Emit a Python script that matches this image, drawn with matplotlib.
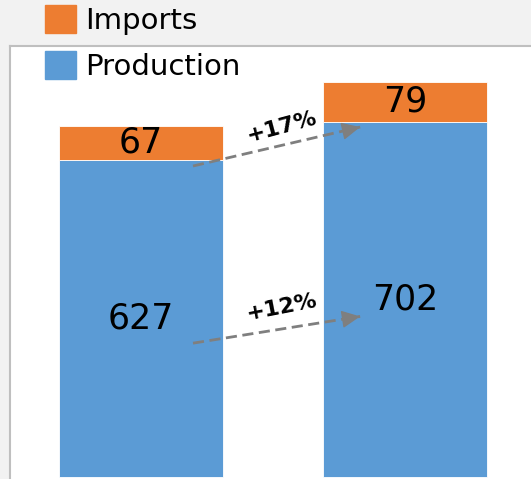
import numpy as np
import matplotlib.pyplot as plt
from matplotlib.patches import Patch

categories = ["Year 1", "Year 2"]
production = [627, 702]
imports = [67, 79]
growth_labels = ["+12%", "+17%"]

blue = "#5B9BD5"
orange = "#ED7D31"
arrow_grey = "#7F7F7F"

fig = plt.figure(figsize=(5.31, 4.79), dpi=100)
fig.patch.set_facecolor("#F2F2F2")

ax = fig.add_axes([10/531, 0, 521/531, 433/479])
ax.set_facecolor("white")

x = np.arange(len(categories))
w = 0.62
ax.bar(x, production, w, color=blue, edgecolor="white", linewidth=0.6, zorder=2)
ax.bar(x, imports, w, bottom=production, color=orange, edgecolor="white", linewidth=0.6, zorder=2)

ax.set_xlim(-0.496, 1.477)
ax.set_ylim(-3, 852)

# value labels in the segment centres
for i in range(len(x)):
    ax.text(x[i], production[i] / 2, str(production[i]), ha="center", va="center",
            fontsize=25, color="black", zorder=3)
    ax.text(x[i], production[i] + imports[i] / 2, str(imports[i]), ha="center", va="center",
            fontsize=25, color="black", zorder=3)


def growth_arrow(p0, p1):
    # dashed shaft, solid head
    ax.plot([p0[0], p1[0]], [p0[1], p1[1]], color=arrow_grey, lw=2, dashes=(4, 2),
            solid_capstyle="butt", zorder=4)
    t = 0.93
    mid = (p0[0] + t * (p1[0] - p0[0]), p0[1] + t * (p1[1] - p0[1]))
    ax.annotate("", xy=p1, xytext=mid, zorder=5,
                arrowprops=dict(arrowstyle="-|>,head_length=1.15,head_width=0.55",
                                color=arrow_grey, lw=1, shrinkA=0, shrinkB=0))


# production
growth_arrow((x[0] + 0.197, production[0] * 0.423), (x[1] - 0.17, production[1] * 0.453))
ax.text(0.535, production[0] * 0.535, growth_labels[0], rotation=11, ha="center", va="center",
        fontsize=16, fontweight="bold", zorder=4)
# imports
growth_arrow((x[0] + 0.197, production[0] - 12), (x[1] - 0.17, production[1] - 10))
ax.text(0.535, production[0] + imports[0] - 2, growth_labels[1], rotation=15, ha="center", va="center",
        fontsize=16, fontweight="bold", zorder=4)

ax.set_xticks([])
ax.set_yticks([])
for s in ["right", "bottom"]:
    ax.spines[s].set_visible(False)
for s in ["top", "left"]:
    ax.spines[s].set_color("#BFBFBF")
    ax.spines[s].set_linewidth(1.5)

handles = [Patch(color=orange, label="Imports"), Patch(color=blue, label="Production")]
fig.legend(handles=handles, loc="upper left", bbox_to_anchor=(33/531, 1.013), frameon=False,
           fontsize=21, handlelength=1.08, handleheight=1.08, handletextpad=0.3,
           labelspacing=0.55, borderaxespad=0)

fig.savefig("out.png", dpi=100, facecolor=fig.get_facecolor())
